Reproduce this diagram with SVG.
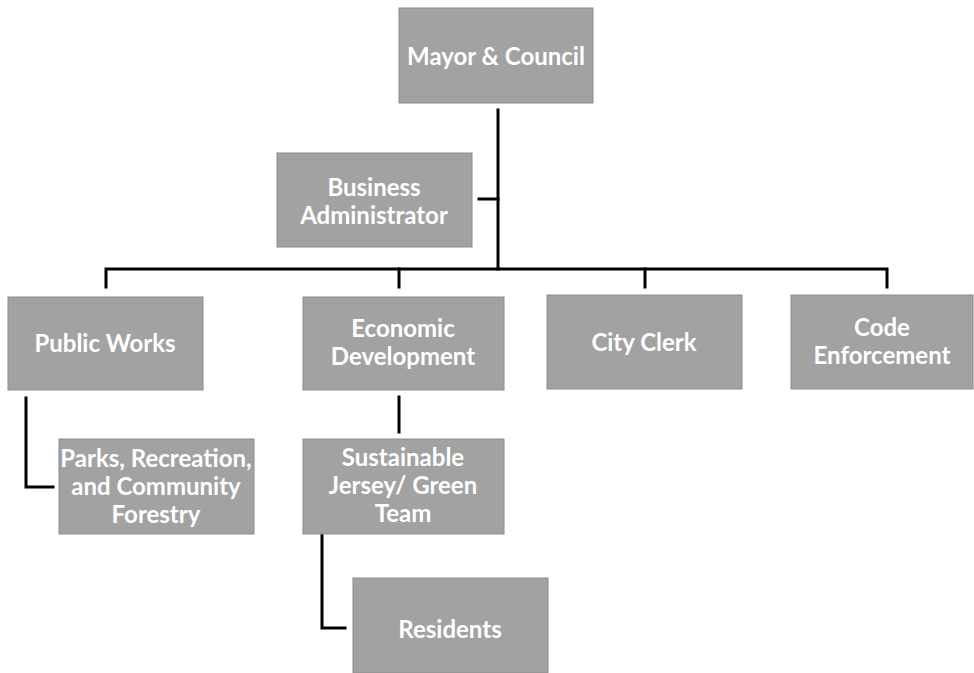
<svg xmlns="http://www.w3.org/2000/svg" width="974" height="673" viewBox="0 0 974 673">
<style>
.box{fill:#a2a2a2;stroke:#8c8c8c;stroke-width:1}
.t{fill:#ffffff;font-family:Lato,"Open Sans","Liberation Sans",sans-serif;font-weight:bold;font-size:24px;text-anchor:middle}
.c{fill:none;stroke:#000;stroke-width:3;stroke-linecap:square}
</style>
<rect width="974" height="673" fill="#ffffff"/>
<g id="connectors">
<path class="c" d="M498 110 V269"/>
<path class="c" d="M479 199 H498"/>
<path class="c" d="M106 287 V269 H887 V287"/>
<path class="c" d="M399 269 V287"/>
<path class="c" d="M645 269 V287"/>
<path class="c" d="M26 398 V487 H53"/>
<path class="c" d="M399 397 V432"/>
<path class="c" d="M322 532 V628 H345"/>
</g>
<g id="mayor"><rect class="box" x="399" y="8" width="194" height="95"/><text class="t" x="496" y="65">Mayor &amp; Council</text></g>
<g id="business"><rect class="box" x="277" y="153" width="195" height="94"/><text class="t" x="374" y="196">Business</text><text class="t" x="374" y="224">Administrator</text></g>
<g id="publicworks"><rect class="box" x="8" y="297" width="195" height="93"/><text class="t" x="105" y="352">Public Works</text></g>
<g id="econdev"><rect class="box" x="303" y="297" width="201" height="93"/><text class="t" x="403" y="337">Economic</text><text class="t" x="403" y="365">Development</text></g>
<g id="cityclerk"><rect class="box" x="547" y="295" width="195" height="94"/><text class="t" x="644" y="351">City Clerk</text></g>
<g id="codeenf"><rect class="box" x="791" y="295" width="182" height="94"/><text class="t" x="882" y="336">Code</text><text class="t" x="882" y="364">Enforcement</text></g>
<g id="parks"><rect class="box" x="59" y="439" width="195" height="95"/><text class="t" x="156" y="467">Parks, Recreation,</text><text class="t" x="156" y="495">and Community</text><text class="t" x="156" y="523">Forestry</text></g>
<g id="sustainable"><rect class="box" x="303" y="439" width="201" height="95"/><text class="t" x="403" y="466">Sustainable</text><text class="t" x="403" y="494">Jersey/ Green</text><text class="t" x="403" y="522">Team</text></g>
<g id="residents"><rect class="box" x="353" y="578" width="195" height="95"/><text class="t" x="450" y="638">Residents</text></g>
</svg>
